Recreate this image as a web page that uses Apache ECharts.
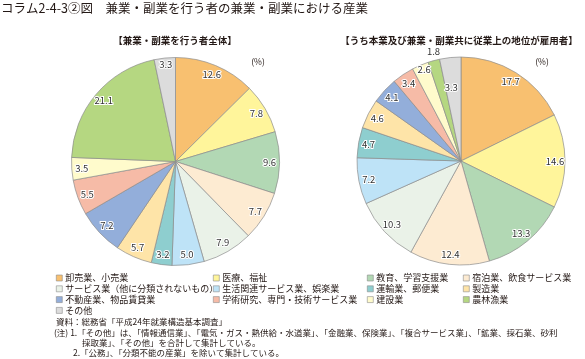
<!DOCTYPE html>
<html><head><meta charset="utf-8">
<script src="https://cdn.jsdelivr.net/npm/echarts@6/dist/echarts.min.js"></script>
<style>html,body{margin:0;padding:0;background:#fff}#c{width:585px;height:359px}</style>
</head><body><div id="c"></div>
<script>
const categories = ['卸売業、小売業','医療、福祉','教育、学習支援業','宿泊業、飲食サービス業','サービス業（他に分類されないもの）','生活関連サービス業、娯楽業','運輸業、郵便業','製造業','不動産業、物品賃貸業','学術研究、専門・技術サービス業','建設業','農林漁業','その他'];
const leftValues = [12.6,7.8,9.6,7.7,7.9,5.0,3.2,5.7,7.2,5.5,3.5,21.1,3.3];
const rightValues = [17.7,14.6,13.3,12.4,10.3,7.2,4.7,4.6,4.1,3.4,2.6,1.8,3.3];
const colors = ['#F8C070','#FFF59B','#B2D8B4','#FDEBD2','#EAF2E8','#BEE3F7','#8ECECF','#FEE4A8','#93AEDA','#F6BBA7','#FFFBCC','#B5D781','#DCDCDC'];
const legendCols = [[0,4,8,12],[1,5,9],[2,6,10],[3,7,11]];

const FONT = '"Noto Sans CJK JP", "Noto Sans", sans-serif';
const chart = echarts.init(document.getElementById('c'), null, {renderer:'canvas'});
const mk = vals => vals.map((v,i)=>({name:categories[i], value:v, itemStyle:{color:colors[i]}}));
const mkT = vals => vals.map((v,i)=>({name:categories[i], value:v}));

const leftAdj = {12:[0,-4]};
const rightAdj = {11:[-3,-19], 10:[0,-5], 12:[0,20]};

function basePie(center, vals){
  return {type:'pie', center:center, radius:[0,104], startAngle:90, clockwise:true,
    data:mk(vals), label:{show:false}, labelLine:{show:false}, silent:true, animation:false,
    itemStyle:{borderColor:'#8c8c8c', borderWidth:0.7}, emphasis:{disabled:true}};
}
function labelPie(center, vals, adj){
  return {type:'pie', center:center, radius:[78,104], startAngle:90, clockwise:true,
    data:mkT(vals), silent:true, animation:false, emphasis:{disabled:true},
    itemStyle:{color:'rgba(0,0,0,0)', borderWidth:0},
    label:{show:true, position:'inside', formatter:p=>p.value.toFixed(1), fontSize:9.5, fontFamily:FONT,
      color:'#333', textBorderColor:'#fff', textBorderWidth:2},
    labelLine:{show:false},
    labelLayout: function(p){ const d = adj[p.dataIndex]; return d ? {dx:d[0], dy:d[1]} : {}; }
  };
}
const legendX = [56,213,367,463];
const legends = legendCols.map((col,ci)=>({
  orient:'vertical', left:legendX[ci], top:273, itemWidth:6, itemHeight:6, itemGap:0.8,
  selectedMode:false, icon:'rect', padding:0,
  itemStyle:{borderColor:'#8c8c8c', borderWidth:0.6},
  textStyle:{fontSize:9, fontFamily:FONT, color:'#231815', lineHeight:10, padding:[0,0,0,-2]},
  data:col.map(i=>categories[i])
}));
const ft = (x,y,s)=>({type:'text', x:x, y:y, style:{text:s, fontSize:8.5, fontFamily:FONT, fill:'#231815', verticalAlign:'middle'}});
chart.setOption({
  animation:false,
  legend:legends,
  series:[basePie([175.5,161.5],leftValues), basePie([461,161],rightValues),
          labelPie([175.5,161.5],leftValues,leftAdj), labelPie([461,161],rightValues,rightAdj)],
  graphic:[
    {type:'text', x:1, y:8, style:{text:'コラム2-4-3②図　兼業・副業を行う者の兼業・副業における産業', fontSize:12.5, fontFamily:FONT, fill:'#231815', verticalAlign:'middle'}},
    {type:'text', x:175, y:40, style:{text:'【兼業・副業を行う者全体】', fontSize:9.5, fontWeight:'bold', fontFamily:FONT, fill:'#231815', align:'center', verticalAlign:'middle'}},
    {type:'text', x:459, y:40, style:{text:'【うち本業及び兼業・副業共に従業上の地位が雇用者】', fontSize:9.5, fontWeight:'bold', fontFamily:FONT, fill:'#231815', align:'center', verticalAlign:'middle'}},
    {type:'text', x:258, y:62, style:{text:'(%)', fontSize:8.5, fontFamily:FONT, fill:'#231815', align:'center', verticalAlign:'middle'}},
    {type:'text', x:542, y:62, style:{text:'(%)', fontSize:8.5, fontFamily:FONT, fill:'#231815', align:'center', verticalAlign:'middle'}},
    ft(56,322,'資料：総務省「平成24年就業構造基本調査」'),
    ft(54,332.5,'(注) 1.「その他」は、「情報通信業」、「電気・ガス・熱供給・水道業」、「金融業、保険業」、「複合サービス業」、「鉱業、採石業、砂利'),
    ft(82,342.5,'採取業」、「その他」を合計して集計している。'),
    ft(73,352.5,'2.「公務」、「分類不能の産業」を除いて集計している。')
  ]
});
</script></body></html>
